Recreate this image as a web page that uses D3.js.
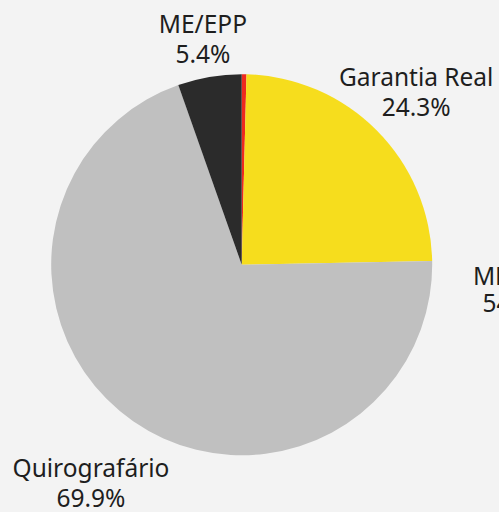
<!DOCTYPE html>
<html>
  <head>
    <meta charset="utf-8">
    <title>Credores</title>
    <script src="https://cdn.jsdelivr.net/npm/d3@7"></script>
  </head>

  <style>
    html, body {
      margin: 0;
      padding: 0;
      background: #f3f3f3;
      overflow: hidden;
    }
    text {
      font-family: "Noto Sans", "Open Sans", sans-serif;
      font-size: 24.5px;
      fill: #1e1e1e;
    }
  </style>

  <body>
    <script>

      // slices, clockwise from 12 o'clock
      var categories = ["Trabalhista", "Garantia Real", "Quirografário", "ME/EPP"];
      var shares = [0.4, 24.3, 69.9, 5.4];
      var showLabel = [false, true, true, true];
      // label of the neighbouring chart, cut at the right border
      var sideLabel = ["ME/EPP", "54.3%"];

      var colors = ["#ee2a1f", "#f6dd1d", "#c0c0c0", "#2b2b2b"];

      var width = 499,
        height = 512;

      var cx = 241.7, cy = 264.7, radius = 190.5;
      var labelDist = [0, 246, 264.5, 230];

      var svg = d3.select("body")
        .append("svg")
        .attr("width", width)
        .attr("height", height);

      var pie = d3.pie()
        .value(d => d.value)
        .sort(null);

      var pieData = categories.map((c, i) => ({ name: c, value: shares[i], idx: i }));

      var arc = d3.arc()
        .innerRadius(0)
        .outerRadius(radius);

      var g = svg.append("g")
        .attr("transform", "translate(" + cx + "," + cy + ")");

      var slices = g.selectAll(".arc")
        .data(pie(pieData))
        .enter()
        .append("g")
        .attr("class", "arc");

      slices.append("path")
        .attr("d", arc)
        .attr("fill", d => colors[d.data.idx]);

      var labels = slices.filter(d => showLabel[d.data.idx])
        .append("text")
        .attr("text-anchor", "middle")
        .attr("transform", d => {
          var a = (d.startAngle + d.endAngle) / 2;
          var r = labelDist[d.data.idx];
          return "translate(" + (Math.sin(a) * r) + "," + (-Math.cos(a) * r) + ")";
        });

      labels.append("tspan")
        .attr("x", 0)
        .attr("y", -5)
        .text(d => d.data.name);

      labels.append("tspan")
        .attr("x", 0)
        .attr("y", 25)
        .text(d => d.data.value.toFixed(1) + "%");

      var side = svg.append("text")
        .attr("text-anchor", "middle")
        .attr("transform", "translate(517,291)");

      side.append("tspan").attr("x", 0).attr("y", -6).text(sideLabel[0]);
      side.append("tspan").attr("x", 0).attr("y", 21).text(sideLabel[1]);

    </script>
  </body>
</html>
